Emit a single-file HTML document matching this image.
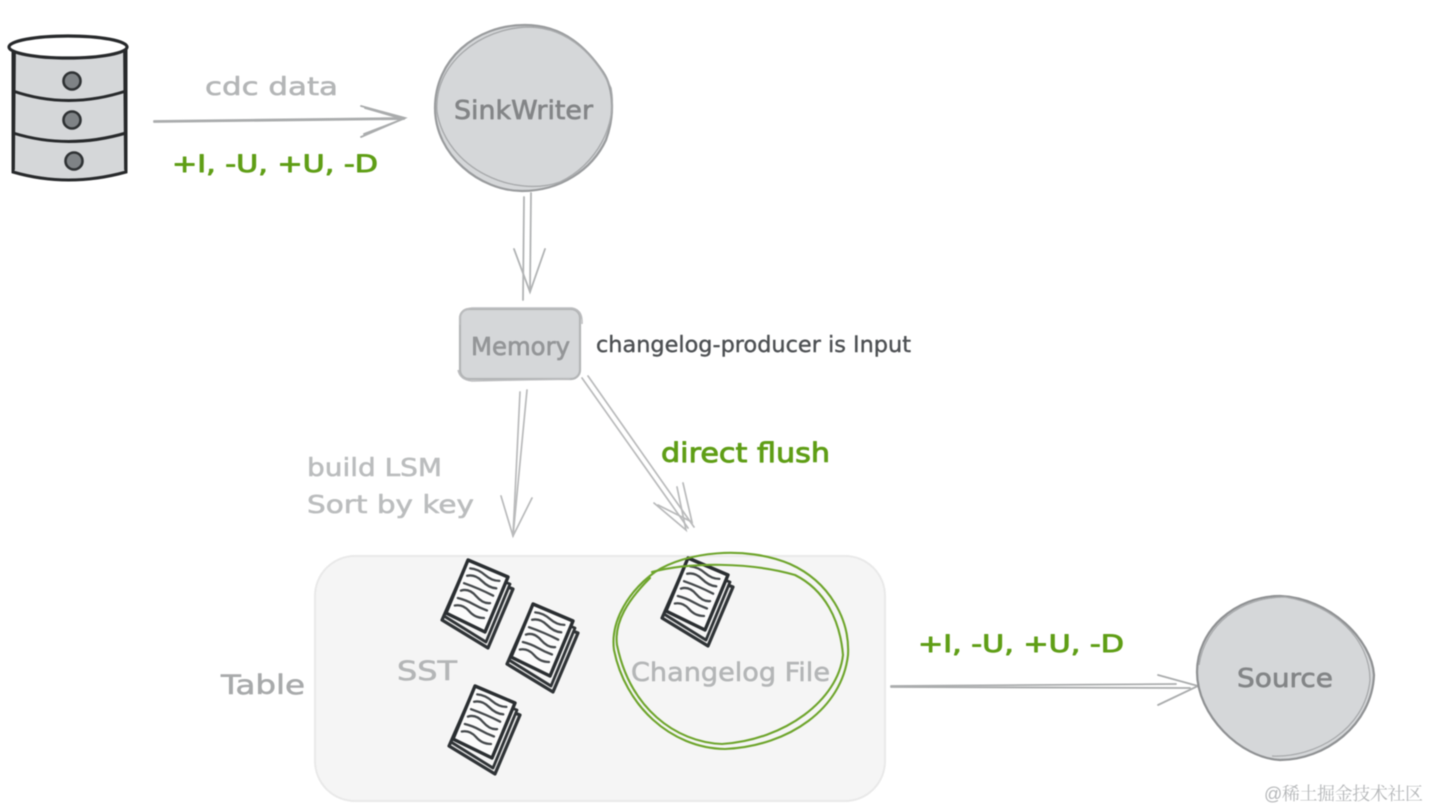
<!DOCTYPE html>
<html>
<head>
<meta charset="utf-8">
<style>
html,body{margin:0;padding:0;background:#fff;width:1430px;height:810px;overflow:hidden}
svg{display:block;filter:blur(.45px)}
text{font-family:"DejaVu Sans","Liberation Sans",sans-serif;stroke-linejoin:round}
.g{fill:#5f9e16;stroke:#5f9e16;stroke-width:.9px}
.l{fill:#b4b6b7;stroke:#b4b6b7;stroke-width:.6px}
.d{fill:#838587;stroke:#838587;stroke-width:.7px}
</style>
</head>
<body>
<svg width="1430" height="810" viewBox="0 0 1430 810" xmlns="http://www.w3.org/2000/svg">
<defs>
<g id="doc">
  <path d="M-26 60 L-4 10 L45 29 L20 88 Z" fill="#e9e9e9" stroke="#2f3336" stroke-width="3.2" stroke-linejoin="round"/>
  <path d="M-24 56 L-2 7 L42 24 L18 82 Z" fill="#f4f4f4" stroke="#2f3336" stroke-width="2.8" stroke-linejoin="round"/>
  <path d="M0 0 L40 17 L17 72 L-22 53 Z" fill="#fbfbfb" stroke="#2a2e31" stroke-width="3.4" stroke-linejoin="round"/>
  <g fill="none" stroke="#45494c" stroke-width="2.3" stroke-linecap="round">
    <path d="M2.2 8.4 Q10 9 17 15 T31.4 20.9"/>
    <path d="M-.9 15.8 Q7 14 14 21 T28.3 28.3"/>
    <path d="M-4 23.2 Q4 26 11 29 T25.2 35.7"/>
    <path d="M-7.1 30.6 Q1 28 8 36 T22.1 43.1"/>
    <path d="M-10.2 38 Q-2 40 5 44 T19 50.5"/>
    <path d="M-13.2 45.5 Q-5 44 1 51 T16 58"/>
  </g>
</g>
</defs>

<!-- database -->
<g>
  <path d="M13 46 L13 172 Q68 188 126 172 L126 46 Z" fill="#d5d7d9" stroke="#27292b" stroke-width="3"/>
  <path d="M15 48 L14 170 M124 48 L125 170" stroke="#27292b" stroke-width="1.8" fill="none"/>
  <ellipse cx="68" cy="47" rx="59" ry="11" fill="#fff" stroke="#27292b" stroke-width="3.2"/>
  <path d="M13 91 Q68 110 126 91" fill="none" stroke="#27292b" stroke-width="3"/>
  <path d="M13 133 Q68 150 126 133" fill="none" stroke="#27292b" stroke-width="3"/>
  <circle cx="72" cy="81" r="8.5" fill="#7f8386" stroke="#2f3234" stroke-width="2.6"/>
  <circle cx="72" cy="120" r="8.5" fill="#7f8386" stroke="#2f3234" stroke-width="2.6"/>
  <circle cx="74" cy="161" r="8.5" fill="#7f8386" stroke="#2f3234" stroke-width="2.6"/>
</g>

<!-- cdc arrow -->
<g fill="none" stroke="#aaacad" stroke-width="1.8" stroke-linecap="round">
  <path d="M154 121 L404 118"/>
  <path d="M154 122 L404 119"/>
  <path d="M361 106 L405 118 L361 137"/>
  <path d="M365 108 L403 119 L364 134"/>
</g>
<text x="205" y="95" font-size="25" class="l" textLength="133" lengthAdjust="spacingAndGlyphs">cdc data</text>
<text x="172" y="172" font-size="24" class="g" textLength="206" lengthAdjust="spacingAndGlyphs">+I, -U, +U, -D</text>

<!-- SinkWriter -->
<path d="M435 108 C435 60 475 25 525 25 C565 25 588 50 603 72 C615 90 614 118 606 140 C592 170 560 191 522 191 C480 191 435 155 435 108 Z" fill="#d5d7d9" stroke="#999b9d" stroke-width="2.2"/>
<path d="M437 112 C433 65 480 27 530 27 C570 28 597 58 611 88 C618 125 596 165 560 182 C515 198 447 170 437 112 Z" fill="none" stroke="#a8aaac" stroke-width="1.4"/>
<text x="454" y="119" font-size="26" class="d" textLength="139" lengthAdjust="spacingAndGlyphs">SinkWriter</text>

<!-- arrow down from SinkWriter -->
<g fill="none" stroke="#b1b3b4" stroke-width="1.8" stroke-linecap="round">
  <path d="M524 197 L523 300"/>
  <path d="M531 193 L530 292"/>
  <path d="M514 249 L530 292 L545 249"/>
</g>

<!-- Memory -->
<rect x="460" y="309" width="120" height="70" rx="9" fill="#d5d7d9" stroke="#b3b5b6" stroke-width="2.2"/>
<path d="M460 325 Q458 309 472 308 L572 308 Q583 310 582 324 M458 370 Q460 380 472 381 L570 379" fill="none" stroke="#bcbdbf" stroke-width="1.4"/>
<text x="471" y="355" font-size="25" class="d" style="fill:#949698;stroke:#949698" textLength="99" lengthAdjust="spacingAndGlyphs">Memory</text>
<text x="596" y="352" font-size="22" fill="#4d5053" stroke="#4d5053" stroke-width=".4" textLength="315" lengthAdjust="spacingAndGlyphs">changelog-producer is Input</text>

<!-- arrows from Memory -->
<g fill="none" stroke="#b9babb" stroke-width="1.7" stroke-linecap="round">
  <path d="M520 392 L513 536"/>
  <path d="M527 390 L513 536"/>
  <path d="M501 496 L513 536 L532 498"/>
  <path d="M582 378 L688 528"/>
  <path d="M588 376 L694 527"/>
  <path d="M654 503 L686 530 L677 487"/>
  <path d="M658 505 L692 522 L683 483"/>
</g>
<text x="661" y="462" font-size="27" class="g" textLength="169" lengthAdjust="spacingAndGlyphs">direct flush</text>
<text x="307" y="476" font-size="25" class="l" style="fill:#bbbdbe;stroke:#bbbdbe" textLength="135" lengthAdjust="spacingAndGlyphs">build LSM</text>
<text x="307" y="513" font-size="25" class="l" style="fill:#bbbdbe;stroke:#bbbdbe" textLength="167" lengthAdjust="spacingAndGlyphs">Sort by key</text>

<!-- Table -->
<rect x="315" y="556" width="570" height="245" rx="40" fill="#f5f5f5" stroke="#e9e9e9" stroke-width="2"/>
<text x="221" y="694" font-size="27" class="l" style="fill:#a8aaab;stroke:#a8aaab" textLength="84" lengthAdjust="spacingAndGlyphs">Table</text>
<text x="397" y="680" font-size="27" class="l" textLength="60" lengthAdjust="spacingAndGlyphs">SST</text>

<use href="#doc" x="468" y="560"/>
<use href="#doc" x="533" y="604"/>
<use href="#doc" x="475" y="686"/>
<use href="#doc" x="688" y="558"/>

<text x="631" y="681" font-size="26" class="l" textLength="199" lengthAdjust="spacingAndGlyphs">Changelog File</text>

<!-- green circle -->
<g fill="none" stroke="#6ea52c" stroke-width="2.1" stroke-linecap="round">
  <path d="M655 572 C685 552 745 545 790 564 C830 582 850 620 848 655 C842 708 790 746 725 749 C670 748 625 705 614 650 C610 620 630 590 655 572"/>
  <path d="M652 572 C690 562 750 562 795 575 C825 590 840 620 843 655 C838 700 785 740 722 744 C675 742 630 708 617 645 C614 622 628 600 650 578"/>
</g>

<!-- arrow to Source -->
<text x="918" y="652" font-size="24" class="g" textLength="206" lengthAdjust="spacingAndGlyphs">+I, -U, +U, -D</text>
<g fill="none" stroke="#aaacad" stroke-width="1.8" stroke-linecap="round">
  <path d="M891 686 L1176 684"/>
  <path d="M891 687 L1190 688"/>
  <path d="M1158 675 L1198 686 L1158 705"/>
</g>

<!-- Source -->
<path d="M1197 672 C1197 630 1235 596 1280 596 C1330 598 1372 640 1374 675 C1372 725 1325 760 1280 760 C1240 758 1197 715 1197 672 Z" fill="#d5d7d9" stroke="#8f9193" stroke-width="2.2"/>
<path d="M1199 665 C1205 625 1240 597 1285 597 C1335 605 1370 640 1370 680 C1365 730 1315 758 1272 756" fill="none" stroke="#a8aaac" stroke-width="1.3"/>
<text x="1237" y="687" font-size="26" class="d" textLength="96" lengthAdjust="spacingAndGlyphs">Source</text>

<!-- watermark -->
<text x="1264" y="800" font-size="18" fill="#b5b7b9" textLength="159" style="font-family:'Liberation Sans','Noto Serif CJK SC',serif">@稀土掘金技术社区</text>
</svg>
</body>
</html>
